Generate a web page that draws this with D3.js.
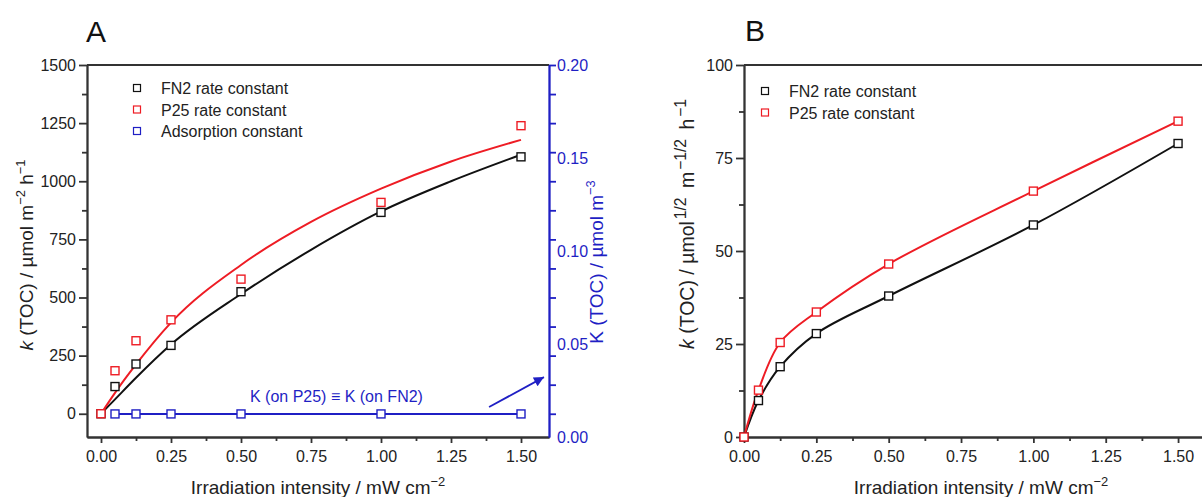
<!DOCTYPE html>
<html>
<head>
<meta charset="utf-8">
<script src="https://cdn.jsdelivr.net/npm/d3@7"></script>
<style>
    body { margin: 0; background: #fff; }
    svg { display: block; font-family: "Liberation Sans", Arial, sans-serif; }
    .axis text { font-size: 16px; fill: #222; }
    .axis path, .axis line { stroke: #333; stroke-width: 1.8; }
    .blue path, .blue line { stroke: #1f1fc4; }
    .blue text { fill: #1f1fc4; }
</style>
</head>
<body>
<div id="chart"></div>
<script>
// ---- data, panel A ----
const intensity = [0, 0.05, 0.125, 0.25, 0.5, 1.0, 1.5];
const fn2Rate = [0, 117, 214, 294, 525, 866, 1105];
const p25Rate = [0, 185, 314, 404, 579, 909, 1239];
// adsorption constant (right axis)
const adsX = [0.05, 0.125, 0.25, 0.5, 1.0, 1.5];
const adsK = [0.0124, 0.0124, 0.0124, 0.0124, 0.0124, 0.0124];
// fitted curves
const fitX = [0, 0.05, 0.125, 0.25, 0.5, 0.75, 1.0, 1.25, 1.5];
const fitFN2 = [0, 62, 155, 298, 515, 705, 870, 1000, 1114];
const fitP25 = [0, 90, 212, 392, 640, 825, 968, 1085, 1178];

// ---- data, panel B ----
const intensityB = [0, 0.05, 0.125, 0.25, 0.5, 1.0, 1.5];
const fn2RateB = [0, 9.8, 18.9, 27.8, 37.9, 57.0, 78.9];
const p25RateB = [0, 12.6, 25.4, 33.6, 46.5, 66.1, 84.9];

// ---- ticks ----
const xTicks = [0, 0.25, 0.5, 0.75, 1.0, 1.25, 1.5];
const xMinor = [0.125, 0.375, 0.625, 0.875, 1.125, 1.375];
const yTicksA = [0, 250, 500, 750, 1000, 1250, 1500];
const yMinorA = [125, 375, 625, 875, 1125, 1375];
const yTicksRight = [0, 0.05, 0.10, 0.15, 0.20];
const yTicksB = [0, 25, 50, 75, 100];
const yMinorB = [12.5, 37.5, 62.5, 87.5];

const BLACK = "#111", RED = "#ee1c24", BLUE = "#1f1fc4", AXIS = "#333";

const svg = d3.select("#chart").append("svg")
    .attr("width", 1202)
    .attr("height", 497);

svg.append("defs").append("marker")
    .attr("id", "arrow")
    .attr("viewBox", "0 0 10 10")
    .attr("refX", 10).attr("refY", 5)
    .attr("markerUnits", "userSpaceOnUse")
    .attr("markerWidth", 14).attr("markerHeight", 10)
    .attr("orient", "auto")
    .append("path")
    .attr("d", "M0,0 L10,5 L0,10 z")
    .attr("fill", BLUE);

// text with superscripts / italics, parts = [{t, sup, it, dx}]
function richText(sel, parts, size, supScale) {
    supScale = supScale || 0.68;
    let up = false;
    parts.forEach(function (p) {
        const ts = sel.append("tspan").text(p.t);
        if (p.it) ts.style("font-style", "italic");
        if (p.dx) ts.attr("dx", p.dx);
        if (p.sup) {
            ts.attr("font-size", size * supScale);
            if (!up) ts.attr("dy", -size * 0.4);
            up = true;
        } else {
            if (up) ts.attr("dy", size * 0.4);
            up = false;
        }
    });
    return sel;
}

function squares(g, xs, ys, x, y, color) {
    g.selectAll(null)
        .data(xs.map((d, i) => [d, ys[i]]))
        .enter()
        .append("rect")
        .attr("x", d => x(d[0]) - 4)
        .attr("y", d => y(d[1]) - 4)
        .attr("width", 8)
        .attr("height", 8)
        .attr("fill", "#fff")
        .attr("stroke", color)
        .attr("stroke-width", 1.4);
}

function legend(g, x0, y0, items) {
    items.forEach(function (it, i) {
        g.append("rect")
            .attr("x", x0 - 3.5).attr("y", y0 + i * 21.5 - 3.5)
            .attr("width", 7).attr("height", 7)
            .attr("fill", "#fff")
            .attr("stroke", it.color)
            .attr("stroke-width", 1.2);
        g.append("text")
            .attr("x", x0 + 24).attr("y", y0 + i * 21.5 + 6)
            .attr("font-size", 16)
            .attr("fill", "#222")
            .text(it.label);
    });
}

// ================= PANEL A =================
const xA = d3.scaleLinear().domain([-0.05, 1.6]).range([87, 549]);
const yA = d3.scaleLinear().domain([-100, 1500]).range([437, 65]);
const yR = d3.scaleLinear().domain([0, 0.20]).range([437, 65]);

const gA = svg.append("g");

gA.append("text").attr("x", 86).attr("y", 42)
    .attr("font-size", 30).attr("fill", "#111").text("A");

// top frame line
gA.append("line")
    .attr("x1", 87).attr("x2", 549).attr("y1", 65).attr("y2", 65)
    .attr("stroke", AXIS).attr("stroke-width", 1.8);

gA.append("g").attr("class", "axis")
    .attr("transform", "translate(87,0)")
    .call(d3.axisLeft(yA).tickValues(yTicksA).tickFormat(d3.format("d"))
        .tickSize(8).tickPadding(3).tickSizeOuter(0));
gA.append("g").attr("class", "axis")
    .attr("transform", "translate(87,0)")
    .call(d3.axisLeft(yA).tickValues(yMinorA).tickFormat("").tickSize(5).tickSizeOuter(0));

gA.append("g").attr("class", "axis")
    .attr("transform", "translate(0,437)")
    .call(d3.axisBottom(xA).tickValues(xTicks).tickFormat(d3.format(".2f"))
        .tickSize(6).tickPadding(8).tickSizeOuter(0));
gA.append("g").attr("class", "axis")
    .attr("transform", "translate(0,437)")
    .call(d3.axisBottom(xA).tickValues(xMinor).tickFormat("").tickSize(4).tickSizeOuter(0));

// right (blue) axis: tick marks follow the left axis, labels follow K scale
gA.append("g").attr("class", "axis blue")
    .attr("transform", "translate(549,0)")
    .call(d3.axisRight(yA).tickValues(yTicksA.concat(yMinorA)).tickFormat("")
        .tickSize(7).tickSizeOuter(0));
gA.append("g").attr("class", "axis blue")
    .attr("transform", "translate(549,0)")
    .call(d3.axisRight(yR).tickValues(yTicksRight).tickFormat(d3.format(".2f"))
        .tickSize(0).tickPadding(8).tickSizeOuter(0));

// adsorption constant
gA.append("path")
    .datum(adsX.map((d, i) => [d, adsK[i]]))
    .attr("fill", "none").attr("stroke", BLUE).attr("stroke-width", 2)
    .attr("d", d3.line().x(d => xA(d[0])).y(d => yR(d[1])));
squares(gA, adsX, adsK, xA, yR, BLUE);

// fitted curves
const lineA = d3.line().x(d => xA(d[0])).y(d => yA(d[1])).curve(d3.curveMonotoneX);
gA.append("path").datum(fitX.map((d, i) => [d, fitFN2[i]]))
    .attr("fill", "none").attr("stroke", BLACK).attr("stroke-width", 2).attr("d", lineA);
gA.append("path").datum(fitX.map((d, i) => [d, fitP25[i]]))
    .attr("fill", "none").attr("stroke", RED).attr("stroke-width", 2).attr("d", lineA);

squares(gA, intensity, fn2Rate, xA, yA, BLACK);
squares(gA, intensity, p25Rate, xA, yA, RED);

// annotation
gA.append("text")
    .attr("x", xA(0.532)).attr("y", yA(52))
    .attr("font-size", 16).attr("fill", BLUE)
    .text("K (on P25) \u2261 K (on FN2)");
gA.append("line")
    .attr("x1", xA(1.386)).attr("y1", yR(0.0161))
    .attr("x2", xA(1.582)).attr("y2", yR(0.0322))
    .attr("stroke", BLUE).attr("stroke-width", 1.8)
    .attr("marker-end", "url(#arrow)");

legend(gA, 137, 88, [
    { label: "FN2 rate constant", color: BLACK },
    { label: "P25 rate constant", color: RED },
    { label: "Adsorption constant", color: BLUE }
]);

// axis titles
richText(gA.append("text")
    .attr("transform", "translate(33,255) rotate(-90)")
    .attr("text-anchor", "middle").attr("font-size", 19).attr("fill", "#222"),
    [{ t: "k", it: true }, { t: " (TOC) / \u00b5mol m" }, { t: "\u22122", sup: true },
     { t: " h" }, { t: "\u22121", sup: true }], 19);

richText(gA.append("text")
    .attr("transform", "translate(603,262) rotate(-90)")
    .attr("text-anchor", "middle").attr("font-size", 19).attr("fill", BLUE),
    [{ t: "K (TOC) / \u00b5mol m" }, { t: "\u22123", sup: true }], 19);

richText(gA.append("text")
    .attr("x", 318).attr("y", 494)
    .attr("text-anchor", "middle").attr("font-size", 19).attr("fill", "#222"),
    [{ t: "Irradiation intensity / mW cm" }, { t: "\u22122", sup: true }], 19);

// ================= PANEL B =================
const xB = d3.scaleLinear().domain([0, 1.6]).range([744, 1207]);
const yB = d3.scaleLinear().domain([0, 100]).range([437, 65]);

const gB = svg.append("g");

gB.append("text").attr("x", 745).attr("y", 41)
    .attr("font-size", 30).attr("fill", "#111").text("B");

gB.append("line")
    .attr("x1", 744).attr("x2", 1207).attr("y1", 65).attr("y2", 65)
    .attr("stroke", AXIS).attr("stroke-width", 1.8);

gB.append("g").attr("class", "axis")
    .attr("transform", "translate(744,0)")
    .call(d3.axisLeft(yB).tickValues(yTicksB).tickFormat(d3.format("d"))
        .tickSize(8).tickPadding(3).tickSizeOuter(0));
gB.append("g").attr("class", "axis")
    .attr("transform", "translate(744,0)")
    .call(d3.axisLeft(yB).tickValues(yMinorB).tickFormat("").tickSize(5).tickSizeOuter(0));

gB.append("g").attr("class", "axis")
    .attr("transform", "translate(0,437)")
    .call(d3.axisBottom(xB).tickValues(xTicks).tickFormat(d3.format(".2f"))
        .tickSize(6).tickPadding(8).tickSizeOuter(0));
gB.append("g").attr("class", "axis")
    .attr("transform", "translate(0,437)")
    .call(d3.axisBottom(xB).tickValues(xMinor).tickFormat("").tickSize(4).tickSizeOuter(0));

const lineB = d3.line().x(d => xB(d[0])).y(d => yB(d[1])).curve(d3.curveCatmullRom.alpha(0.5));
gB.append("path").datum(intensityB.map((d, i) => [d, fn2RateB[i]]))
    .attr("fill", "none").attr("stroke", BLACK).attr("stroke-width", 2).attr("d", lineB);
gB.append("path").datum(intensityB.map((d, i) => [d, p25RateB[i]]))
    .attr("fill", "none").attr("stroke", RED).attr("stroke-width", 2).attr("d", lineB);

squares(gB, intensityB, fn2RateB, xB, yB, BLACK);
squares(gB, intensityB, p25RateB, xB, yB, RED);

legend(gB, 765, 91, [
    { label: "FN2 rate constant", color: BLACK },
    { label: "P25 rate constant", color: RED }
]);

richText(gB.append("text")
    .attr("transform", "translate(694,224) rotate(-90)")
    .attr("text-anchor", "middle").attr("font-size", 19.5).attr("fill", "#222"),
    [{ t: "k", it: true }, { t: " (TOC) / \u00b5mol" }, { t: "1/2", sup: true, dx: 2 },
     { t: " m", dx: 4 }, { t: "\u22121/2", sup: true, dx: 2 }, { t: " h", dx: 4 },
     { t: "\u22121", sup: true, dx: 2 }], 19.5, 0.8);

richText(gB.append("text")
    .attr("x", 981).attr("y", 494)
    .attr("text-anchor", "middle").attr("font-size", 19).attr("fill", "#222"),
    [{ t: "Irradiation intensity / mW cm" }, { t: "\u22122", sup: true }], 19);
</script>
</body>
</html>
